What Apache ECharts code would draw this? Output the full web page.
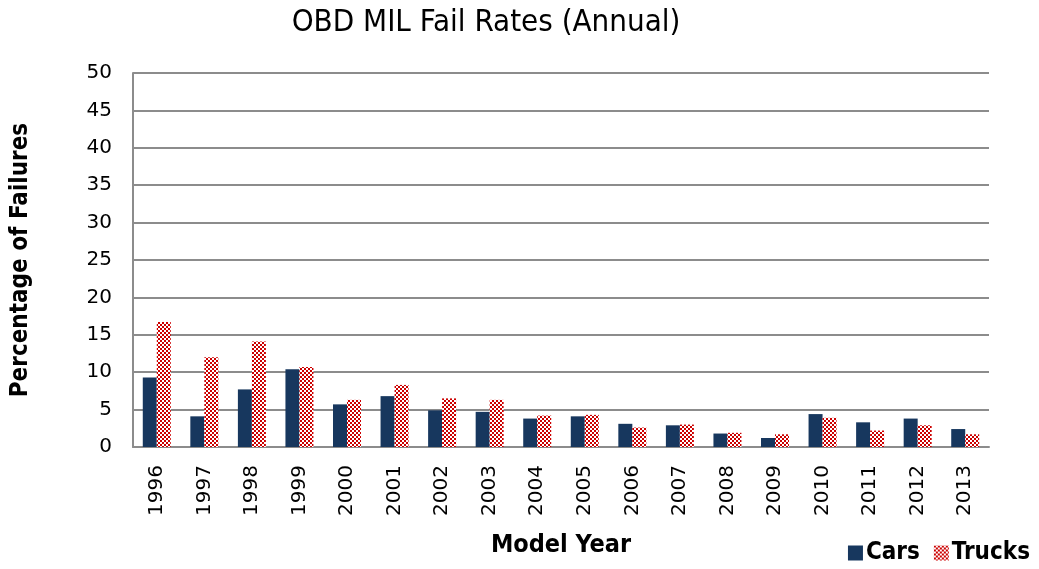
<!DOCTYPE html>
<html>
<head>
<meta charset="utf-8">
<style>
html, body { margin: 0; padding: 0; background: #fff; }
#chart { width: 1039px; height: 569px; }
</style>
</head>
<body>
<div id="chart"></div>
<script src="https://cdn.jsdelivr.net/npm/echarts@6/dist/echarts.min.js"></script>
<script>
var years = ['1996','1997','1998','1999','2000','2001','2002','2003','2004','2005','2006','2007','2008','2009','2010','2011','2012','2013'];
var cars = [9.3, 4.1, 7.7, 10.4, 5.7, 6.8, 4.9, 4.7, 3.8, 4.1, 3.1, 2.9, 1.8, 1.2, 4.4, 3.3, 3.8, 2.4];
var trucks = [16.7, 12.0, 14.1, 10.7, 6.3, 8.3, 6.5, 6.3, 4.2, 4.3, 2.6, 3.0, 1.9, 1.7, 3.9, 2.2, 2.9, 1.7];

// red / white checker fill for the trucks
var checker = document.createElement('canvas');
checker.width = 4; checker.height = 4;
var cx = checker.getContext('2d');
cx.fillStyle = '#ffffff'; cx.fillRect(0, 0, 4, 4);
cx.fillStyle = '#cc0000';
cx.fillRect(0, 0, 2, 2); cx.fillRect(2, 2, 2, 2);

var narrow = '"DejaVu Sans Condensed", "DejaVu Sans", sans-serif';
var wide = '"DejaVu Sans", sans-serif';
var grey = '#8c8c8c';

var myChart = echarts.init(document.getElementById('chart'));
var option = {
    animation: false,
    title: {
        text: 'OBD MIL Fail Rates (Annual)',
        left: 481, top: 2, textAlign: 'center',
        textStyle: { fontFamily: narrow, fontSize: 31, fontWeight: 'normal', color: '#000' }
    },
    legend: {
        right: 4, top: 536,
        itemWidth: 15, itemHeight: 15, itemGap: 14,
        textStyle: { fontFamily: narrow, fontSize: 24, fontWeight: 'bold', color: '#000', padding: [0, 0, 0, -2] },
        data: [
            { name: 'Cars', icon: 'rect' },
            { name: 'Trucks', icon: 'rect' }
        ]
    },
    grid: { left: 133, right: 50, top: 73, bottom: 122, outerBoundsMode: 'none' },
    xAxis: {
        type: 'category',
        data: years,
        name: 'Model Year',
        nameLocation: 'middle',
        nameGap: 86,
        nameTextStyle: { fontFamily: narrow, fontSize: 25, fontWeight: 'bold', color: '#000' },
        axisLine: { lineStyle: { color: grey, width: 2 } },
        axisTick: { show: false },
        axisLabel: { rotate: 90, fontFamily: wide, fontSize: 20, color: '#000', margin: 18 }
    },
    yAxis: {
        type: 'value',
        min: 0, max: 50, interval: 5,
        name: 'Percentage of Failures',
        nameLocation: 'middle',
        nameGap: 100,
        nameTextStyle: { fontFamily: narrow, fontSize: 24, fontWeight: 'bold', color: '#000' },
        axisLine: { show: true, lineStyle: { color: grey, width: 2 } },
        axisTick: { show: false },
        axisLabel: { fontFamily: wide, fontSize: 20, color: '#000', margin: 21 },
        splitLine: { lineStyle: { color: grey, width: 2 } }
    },
    series: [{
        name: 'Cars',
        type: 'bar',
        data: cars,
        barWidth: 14,
        barGap: '0%',
        itemStyle: { color: '#17375e' }
    }, {
        name: 'Trucks',
        type: 'bar',
        data: trucks,
        barWidth: 14,
        itemStyle: { color: { image: checker, repeat: 'repeat' } }
    }]
};
myChart.setOption(option);
</script>
</body>
</html>
